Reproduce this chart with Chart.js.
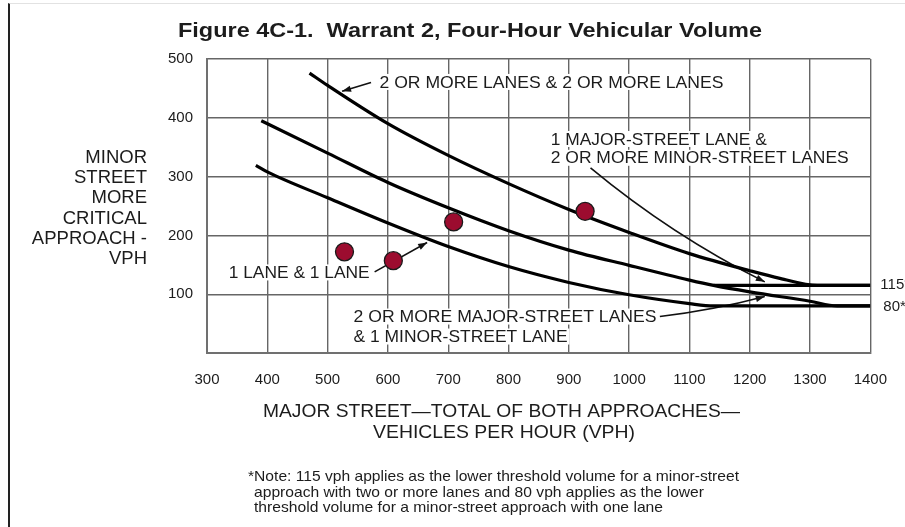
<!DOCTYPE html>
<html>
<head>
<meta charset="utf-8">
<script src="https://cdn.jsdelivr.net/npm/chart.js@4.4.1/dist/chart.umd.min.js"></script>
<style>
    html, body { margin: 0; padding: 0; background: #fff; }
    #wrap { position: relative; width: 905px; height: 527px; overflow: hidden; }
    #frame { position: absolute; left: 8px; top: 3px; right: 0; bottom: -2px;
             border-left: 2px solid #222; border-top: 1px solid #e2e2e2; pointer-events: none; }
</style>
</head>
<body>
<div id="wrap">
    <canvas id="warrantChart" width="905" height="527"></canvas>
    <div id="frame"></div>
</div>
<script>
// Warrant 2 curves (major street vph -> minor street vph)
const curveTwoTwoX = [470, 500, 600, 700, 800, 900, 1000, 1100, 1200, 1250, 1312, 1400];
const curveTwoTwoY = [476, 455, 390, 336, 288, 244, 205, 169, 140, 127, 115, 115];

const curveTwoOneX = [390, 500, 600, 700, 800, 900, 1000, 1100, 1140, 1200, 1300, 1345, 1400];
const curveTwoOneY = [395, 340, 290, 247, 208, 175, 149, 124, 115, 104, 88, 80, 80];

const branch115X = [1140, 1400];
const branch115Y = [115, 115];

const curveOneOneX = [381, 400, 500, 600, 700, 800, 900, 1000, 1100, 1140, 1400];
const curveOneOneY = [319, 308, 264, 221, 181, 147, 120, 99, 84, 80, 80];

// observed intersection counts
const pointsX = [528, 609, 709, 927];
const pointsY = [172, 157, 223, 241];

const xTicks = [300, 400, 500, 600, 700, 800, 900, 1000, 1100, 1200, 1300, 1400];
const yTicks = [0, 100, 200, 300, 400, 500];

const FONT = '"Liberation Sans", Arial, Helvetica, sans-serif';
const INK = '#1c1c1c';

function toPoints(xs, ys) {
    return xs.map((x, i) => ({ x: x, y: ys[i] }));
}

function curveDataset(xs, ys) {
    return {
        data: toPoints(xs, ys),
        showLine: true,
        borderColor: '#000',
        borderWidth: 3.2,
        pointRadius: 0,
        cubicInterpolationMode: 'monotone',
        order: 1
    };
}

// draw text squeezed/stretched to a given width
function fitText(ctx, text, x, y, width, align) {
    const w = ctx.measureText(text).width;
    ctx.save();
    ctx.translate(x, y);
    ctx.scale(width / w, 1);
    ctx.textAlign = align;
    ctx.fillText(text, 0, 0);
    ctx.restore();
    return w;
}

function arrowHead(ctx, fromX, fromY, toX, toY) {
    const ang = Math.atan2(toY - fromY, toX - fromX);
    const len = 9, half = 3.2;
    ctx.beginPath();
    ctx.moveTo(toX, toY);
    ctx.lineTo(toX - len * Math.cos(ang) + half * Math.sin(ang), toY - len * Math.sin(ang) - half * Math.cos(ang));
    ctx.lineTo(toX - len * Math.cos(ang) - half * Math.sin(ang), toY - len * Math.sin(ang) + half * Math.cos(ang));
    ctx.closePath();
    ctx.fill();
}

// labels inside the plot, anchored in data units
const labels = [
    { text: '2 OR MORE LANES & 2 OR MORE LANES', x: 586, y: 461, width: 344 },
    { text: '1 MAJOR-STREET LANE &', x: 870, y: 364, width: 216 },
    { text: '2 OR MORE MINOR-STREET LANES', x: 870, y: 332, width: 298 },
    { text: '1 LANE & 1 LANE', x: 336, y: 137, width: 141 },
    { text: '2 OR MORE MAJOR-STREET LANES', x: 543, y: 62, width: 303 },
    { text: '& 1 MINOR-STREET LANE', x: 543, y: 28, width: 214 }
];

// leader arrows: from, optional control, to (data units)
const arrows = [
    { from: [572, 460], to: [524, 445] },
    { from: [936, 315], ctrl: [1070, 201], to: [1225, 121] },
    { from: [578, 138], to: [665, 188] },
    { from: [1051, 62], ctrl: [1141, 73], to: [1225, 96] }
];

const annotationPlugin = {
    id: 'annotations',
    beforeDatasetsDraw(chart) {
        const { ctx, scales: { x, y } } = chart;
        ctx.save();
        ctx.font = '17px ' + FONT;
        ctx.textBaseline = 'middle';
        labels.forEach(l => {
            const px = x.getPixelForValue(l.x);
            const py = y.getPixelForValue(l.y);
            ctx.fillStyle = '#fff';
            ctx.fillRect(px - 2, py - 8, l.width + 4, 16);
            ctx.fillStyle = INK;
            fitText(ctx, l.text, px, py + 1, l.width, 'left');
        });

        ctx.strokeStyle = '#111';
        ctx.fillStyle = '#111';
        ctx.lineWidth = 1.6;
        arrows.forEach(a => {
            const fx = x.getPixelForValue(a.from[0]), fy = y.getPixelForValue(a.from[1]);
            const tx = x.getPixelForValue(a.to[0]), ty = y.getPixelForValue(a.to[1]);
            ctx.beginPath();
            ctx.moveTo(fx, fy);
            let bx = fx, by = fy;
            if (a.ctrl) {
                bx = x.getPixelForValue(a.ctrl[0]);
                by = y.getPixelForValue(a.ctrl[1]);
                ctx.quadraticCurveTo(bx, by, tx, ty);
            } else {
                ctx.lineTo(tx, ty);
            }
            ctx.stroke();
            arrowHead(ctx, bx, by, tx, ty);
        });
        ctx.restore();
    },
    afterDraw(chart) {
        const { ctx, chartArea, scales: { y } } = chart;
        ctx.save();
        ctx.fillStyle = INK;
        ctx.textBaseline = 'middle';

        // title
        ctx.font = 'bold 21px ' + FONT;
        fitText(ctx, 'Figure 4C-1.  Warrant 2, Four-Hour Vehicular Volume', 178, 31, 584, 'left');

        // y axis title
        ctx.font = '18.5px ' + FONT;
        ctx.textAlign = 'right';
        ['MINOR', 'STREET', 'MORE', 'CRITICAL', 'APPROACH -', 'VPH'].forEach((t, i) => {
            ctx.fillText(t, 147, 158 + i * 20.2);
        });

        // threshold labels at right edge
        ctx.font = '15px ' + FONT;
        ctx.textAlign = 'left';
        ctx.fillText('115*', chartArea.right + 10, y.getPixelForValue(115) - 1);
        ctx.fillText('80*', chartArea.right + 13, y.getPixelForValue(80) + 1);

        // x axis title
        ctx.font = '18.5px ' + FONT;
        fitText(ctx, 'MAJOR STREET\u2014TOTAL OF BOTH APPROACHES\u2014', 263, 412, 477, 'left');
        fitText(ctx, 'VEHICLES PER HOUR (VPH)', 373, 433, 262, 'left');

        // note
        ctx.font = '14.5px ' + FONT;
        fitText(ctx, '*Note: 115 vph applies as the lower threshold volume for a minor-street', 248, 477, 491, 'left');
        fitText(ctx, 'approach with two or more lanes and 80 vph applies as the lower', 254, 493, 450, 'left');
        fitText(ctx, 'threshold volume for a minor-street approach with one lane', 254, 508, 409, 'left');
        ctx.restore();
    }
};

document.addEventListener('DOMContentLoaded', () => {
    const canvas = document.getElementById('warrantChart');
    window.warrantChart = new Chart(canvas, {
        type: 'scatter',
        data: {
            datasets: [
                {
                    data: toPoints(pointsX, pointsY),
                    pointRadius: 9,
                    pointHoverRadius: 9,
                    backgroundColor: '#9c0c2f',
                    borderColor: '#1a1a1a',
                    borderWidth: 1.3,
                    order: 0
                },
                curveDataset(curveTwoTwoX, curveTwoTwoY),
                curveDataset(curveTwoOneX, curveTwoOneY),
                curveDataset(branch115X, branch115Y),
                curveDataset(curveOneOneX, curveOneOneY)
            ]
        },
        options: {
            responsive: false,
            devicePixelRatio: 1,
            animation: false,
            layout: { padding: { left: 0, right: 32, top: 59, bottom: 0 } },
            plugins: {
                legend: { display: false },
                tooltip: { enabled: false }
            },
            scales: {
                x: {
                    type: 'linear',
                    min: xTicks[0],
                    max: xTicks[xTicks.length - 1],
                    afterFit: scale => { scale.height = 174; },
                    afterBuildTicks: scale => { scale.ticks = xTicks.map(v => ({ value: v })); },
                    grid: { color: '#666', lineWidth: 1.4, drawTicks: false },
                    border: { color: '#707070', width: 2 },
                    ticks: {
                        padding: 18,
                        color: INK,
                        font: { family: FONT, size: 15 },
                        maxRotation: 0,
                        autoSkip: false,
                        callback: v => String(v)
                    }
                },
                y: {
                    type: 'linear',
                    min: yTicks[0],
                    max: yTicks[yTicks.length - 1],
                    afterFit: scale => { scale.width = 207; },
                    afterBuildTicks: scale => { scale.ticks = yTicks.map(v => ({ value: v })); },
                    grid: { color: '#666', lineWidth: 1.4, drawTicks: false },
                    border: { color: '#707070', width: 2 },
                    ticks: {
                        padding: 14,
                        color: INK,
                        font: { family: FONT, size: 15 },
                        callback: v => (v === 0 ? '' : String(v))
                    }
                }
            }
        },
        plugins: [annotationPlugin]
    });
});
</script>
</body>
</html>
